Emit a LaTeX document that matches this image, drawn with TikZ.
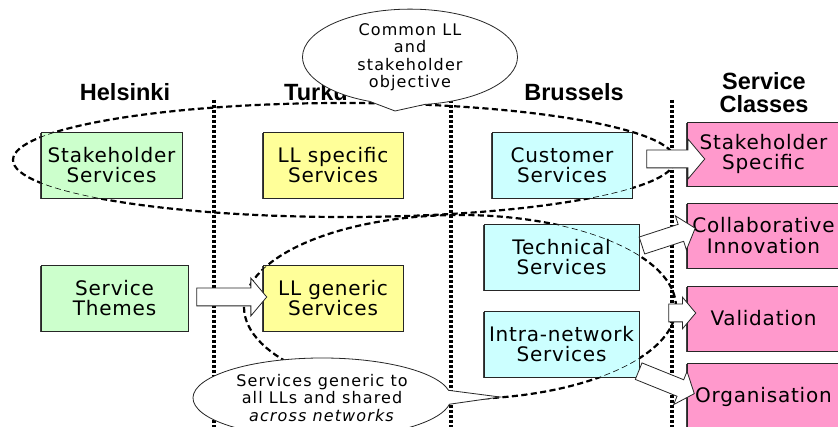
\documentclass[tikz,border=0pt]{standalone}
\usepackage{fontspec}
\setmainfont{DejaVu Sans}
\newfontfamily\cityfont{Liberation Sans}
\usetikzlibrary{shapes.arrows,shapes.callouts,shadows}

\definecolor{helgreen}{HTML}{CCFFCC}
\definecolor{llyellow}{HTML}{FFFF99}
\definecolor{brucyan}{HTML}{CCFFFF}
\definecolor{clspink}{HTML}{FF99CC}
\newcommand\svcfont{\fontsize{20}{20.5}\selectfont\addfontfeature{LetterSpace=4}}
\newcommand\notefont{\fontsize{16}{17.5}\selectfont\addfontfeature{LetterSpace=7}}

\begin{document}
\begin{tikzpicture}[x=1pt,y=-1pt,
   svc/.style={draw=black!85,line width=0.7pt,align=center,inner sep=0pt,
     minimum height=66pt,font=\svcfont,
     drop shadow={shadow xshift=-1pt,shadow yshift=-1.5pt,fill=black!75,opacity=1}},
   cls/.style={svc,fill=clspink,minimum width=153pt,minimum height=65pt},
   city/.style={font=\cityfont\bfseries\fontsize{23.5}{23}\selectfont,align=center,inner sep=0pt},
   divider/.style={line width=3.4pt,dash pattern=on 3pt off 2pt},
   zone/.style={line width=2.2pt,dash pattern=on 6pt off 3.5pt},
   zonethin/.style={line width=0.6pt,dash pattern=on 6pt off 3.5pt},
   blockarrow/.style={single arrow,draw=black!85,fill=white,line width=0.8pt,
     inner xsep=0pt,inner ysep=8.5pt,single arrow head extend=#1,
     single arrow tip angle=100},
   balloon/.style={ellipse callout,draw=black!85,fill=white,line width=0.8pt,
     inner sep=0pt,align=center,font=\notefont}]
  \useasboundingbox[fill=white] (0,0) rectangle (838,427);

  % columns
  \draw[divider] (214,100) -- (214,427);
  \draw[divider] (451,100) -- (451,427);
  \draw[divider] (672,100) -- (672,427);

  \draw[zone] (344,160) ellipse [x radius=331pt,y radius=57pt];
  \draw[zone] (460,307) ellipse [x radius=216pt,y radius=92pt];

  % services
  \node[svc,fill=helgreen,minimum width=141pt] (stake) at (111.5,165) {Stakeholder\\Services};
  \node[svc,fill=llyellow,minimum width=140pt] (llspec) at (333,165) {LL specific\\Services};
  \node[svc,fill=brucyan,minimum width=140pt] (cust) at (562,165) {Customer\\Services};
  \node[svc,fill=helgreen,minimum width=147pt] (themes) at (114.5,298) {Service\\Themes};
  \node[svc,fill=llyellow,minimum width=140pt] (llgen) at (333,298) {LL generic\\Services};
  \node[svc,fill=brucyan,minimum width=155pt] (tech) at (561.5,257) {Technical\\Services};
  \node[svc,fill=brucyan,minimum width=155pt] (intra) at (561.5,344) {Intra-network\\Services};

  % service classes
  \node[cls,minimum height=64pt] (shspec) at (763.5,154) {Stakeholder\\Specific};
  \node[cls] (collab) at (763.5,235.5) {Collaborative\\Innovation};
  \node[cls] (valid) at (763.5,318.5) {Validation};
  \node[cls,minimum height=67pt] (organ) at (763.5,396.5) {Organisation};

  \draw[zonethin] (344,160) ellipse [x radius=331pt,y radius=57pt];
  \draw[zonethin] (460,307) ellipse [x radius=216pt,y radius=92pt];

  % block arrows
  \node[blockarrow=11pt,minimum height=58pt] (a1) at (672,159) {};
  \node[blockarrow=10pt,minimum height=70pt] (a2) at (228,297) {};
  \node[blockarrow=9pt,minimum height=56pt,rotate=18] (a3) at (665,238) {};
  \node[blockarrow=7pt,minimum height=27pt] (a4) at (678.5,313) {};
  \node[blockarrow=9pt,minimum height=60pt,rotate=-22] (a5) at (663,381) {};

  % headings
  \node[city] (hel) at (125,92) {Helsinki};
  \node[city] (tur) at (316,92) {Turku};
  \node[city] (bru) at (574,92) {Brussels};
  \node[city] (cls) at (764,93) {Service\\Classes};

  % notes
  \node[balloon,minimum width=215pt,minimum height=92pt,
    callout absolute pointer={(395,111)},callout pointer arc=30] (common) at (410,57)
    {Common LL\\and\\stakeholder\\objective};
  \node[balloon,minimum width=258pt,minimum height=80pt,
    callout absolute pointer={(500,397)},callout pointer arc=20] (generic) at (322,398)
    {Services generic to\\all LLs and shared\\\textit{across networks}};
\end{tikzpicture}
\end{document}
